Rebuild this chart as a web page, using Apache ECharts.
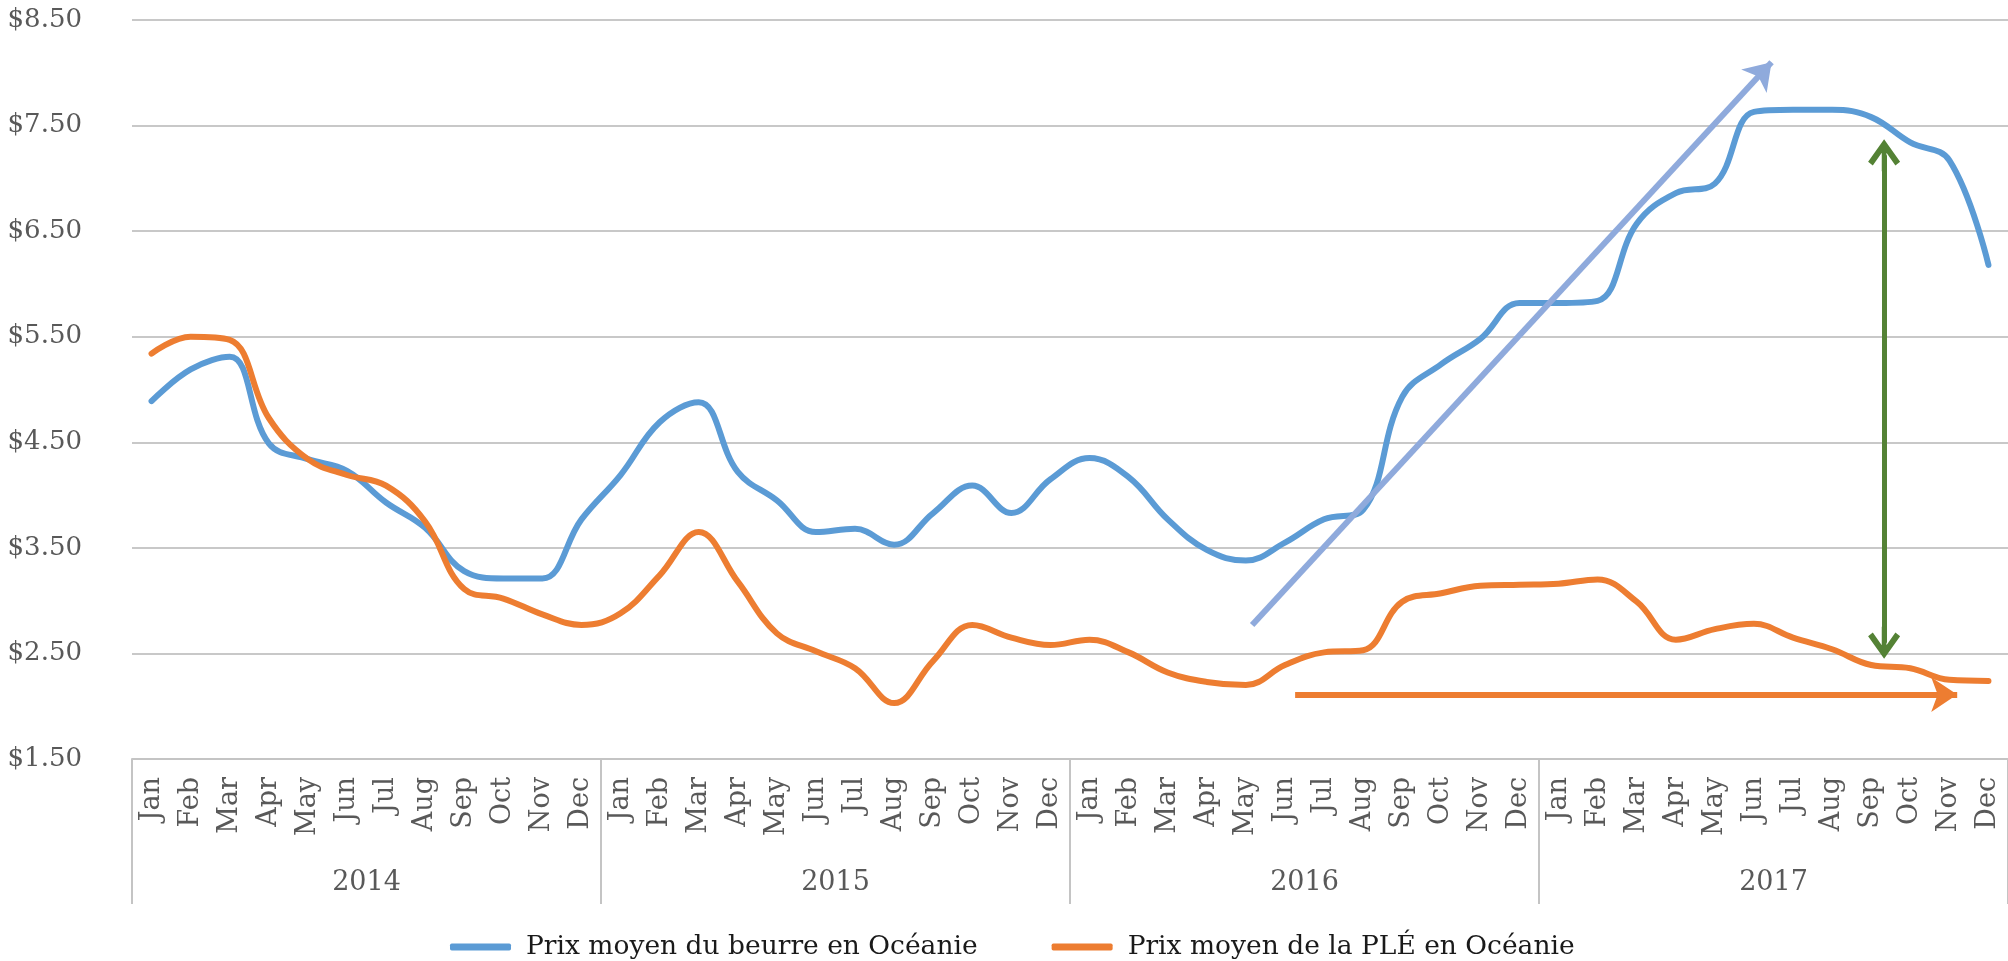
<!DOCTYPE html>
<html>
<head>
<meta charset="utf-8">
<title>Prix moyen du beurre et de la PLÉ en Océanie</title>
<script src="https://cdn.jsdelivr.net/npm/echarts@6/dist/echarts.min.js"></script>
<style>
  html, body { margin: 0; padding: 0; background: #fff; }
  #chart { width: 2008px; height: 961px; }
</style>
</head>
<body>
<div id="chart"></div>
<script>
// months (category axis), 4 years
var months = ['Jan', 'Feb', 'Mar', 'Apr', 'May', 'Jun', 'Jul', 'Aug', 'Sep', 'Oct', 'Nov', 'Dec'];
var years = ['2014', '2015', '2016', '2017'];
var monthLabels = [].concat(months, months, months, months);

// prix moyen du beurre (USD/kg), Jan 2014 -> Dec 2017
var butter = [
  4.89, 5.19, 5.31, 4.49, 4.34, 4.23, 3.93, 3.69, 3.28, 3.21, 3.21, 3.77,
  4.19, 4.69, 4.88, 4.22, 3.95, 3.65, 3.68, 3.53, 3.83, 4.09, 3.83, 4.15,
  4.35, 4.17, 3.77, 3.48, 3.38, 3.55, 3.77, 3.86, 4.93, 5.24, 5.48, 5.82,
  5.82, 5.84, 6.57, 6.86, 6.95, 7.63, 7.65, 7.65, 7.58, 7.34, 7.17, 6.18
];
// prix moyen de la PLÉ
var ple = [
  5.34, 5.50, 5.47, 4.73, 4.34, 4.19, 4.09, 3.75, 3.11, 3.02, 2.87, 2.77,
  2.88, 3.24, 3.65, 3.18, 2.69, 2.52, 2.36, 2.03, 2.43, 2.77, 2.65, 2.58,
  2.63, 2.51, 2.32, 2.23, 2.20, 2.39, 2.51, 2.53, 2.99, 3.07, 3.14, 3.15,
  3.16, 3.20, 2.99, 2.63, 2.73, 2.78, 2.65, 2.54, 2.39, 2.36, 2.25, 2.24
];
var yTicks = { min: 1.5, max: 8.5, step: 1 };

// annotation arrows, in [month position (0..48), price]
var trendUp = [[28.66, 2.77], [41.95, 8.1]];
var gap = [[44.83, 2.6], [44.83, 7.22]];
var flatPle = [[29.76, 2.11], [46.7, 2.11]];

var chevron = 'path://M17,0 L34,24 L29,28 L19.5,14.6 L19.5,34 L14.5,34 L14.5,14.6 L5,28 L0,24 Z';
var font = 'DejaVu Serif';
var grey = '#595959';

var chartDom = document.getElementById('chart');
var myChart = echarts.init(chartDom);

var option = {
  backgroundColor: '#fff',
  animation: false,
  grid: { left: 132, right: 0, top: 20, bottom: 202, outerBoundsMode: 'none' },
  legend: {
    left: 445,
    top: 924,
    itemWidth: 61,
    itemHeight: 7,
    itemGap: 74,
    icon: 'roundRect',
    textStyle: { fontFamily: font, fontSize: 26.5, color: '#1a1a1a', padding: [0, 0, 0, 10], lineHeight: 36 },
    data: ['Prix moyen du beurre en Océanie', 'Prix moyen de la PLÉ en Océanie']
  },
  xAxis: [
    {
      type: 'category',
      data: monthLabels,
      boundaryGap: true,
      axisLine: { show: true, lineStyle: { color: '#c4c4c4', width: 2 } },
      axisTick: { show: false },
      axisLabel: { interval: 0, rotate: 90, margin: 18, fontFamily: font, fontSize: 27, color: grey }
    },
    {
      type: 'category',
      data: years,
      position: 'bottom',
      boundaryGap: true,
      axisLine: { show: false },
      axisTick: { show: true, length: 145, lineStyle: { color: '#c4c4c4', width: 2 } },
      axisLabel: { interval: 0, margin: 110, fontFamily: font, fontSize: 27, color: grey }
    },
    {
      type: 'value',
      show: false,
      min: 0,
      max: 48
    }
  ],
  yAxis: {
    type: 'value',
    min: yTicks.min,
    max: yTicks.max,
    interval: yTicks.step,
    axisLine: { show: false },
    axisTick: { show: false },
    splitLine: { lineStyle: { color: '#c8c8c8', width: 2 } },
    axisLabel: {
      margin: 50,
      fontFamily: font,
      fontSize: 26,
      color: grey,
      formatter: function (v) { return '$' + v.toFixed(2); }
    }
  },
  series: [
    {
      name: 'Prix moyen du beurre en Océanie',
      type: 'line',
      data: butter,
      smooth: 0.4,
      showSymbol: false,
      symbol: 'none',
      itemStyle: { color: '#5b9bd5' },
      lineStyle: { color: '#5b9bd5', width: 6, cap: 'round' },
      z: 3
    },
    {
      name: 'Prix moyen de la PLÉ en Océanie',
      type: 'line',
      data: ple,
      smooth: 0.4,
      showSymbol: false,
      symbol: 'none',
      itemStyle: { color: '#ed7d31' },
      lineStyle: { color: '#ed7d31', width: 6, cap: 'round' },
      z: 3
    },
    {
      type: 'lines',
      coordinateSystem: 'cartesian2d',
      xAxisIndex: 2,
      yAxisIndex: 0,
      symbol: ['none', 'arrow'],
      symbolSize: [0, 26],
      lineStyle: { color: '#8faadc', width: 6, opacity: 1, curveness: 0 },
      data: [{ coords: trendUp }],
      z: 5
    },
    {
      type: 'lines',
      coordinateSystem: 'cartesian2d',
      xAxisIndex: 2,
      yAxisIndex: 0,
      symbol: ['none', 'arrow'],
      symbolSize: [0, 26],
      lineStyle: { color: '#ed7d31', width: 6, opacity: 1, curveness: 0 },
      data: [{ coords: flatPle }],
      z: 5
    },
    {
      type: 'lines',
      coordinateSystem: 'cartesian2d',
      xAxisIndex: 2,
      yAxisIndex: 0,
      symbol: [chevron, chevron],
      symbolSize: [32, 32],
      lineStyle: { color: '#548235', width: 5, opacity: 1, curveness: 0 },
      data: [{ coords: gap }],
      z: 5
    }
  ]
};

option && myChart.setOption(option);
</script>
</body>
</html>
